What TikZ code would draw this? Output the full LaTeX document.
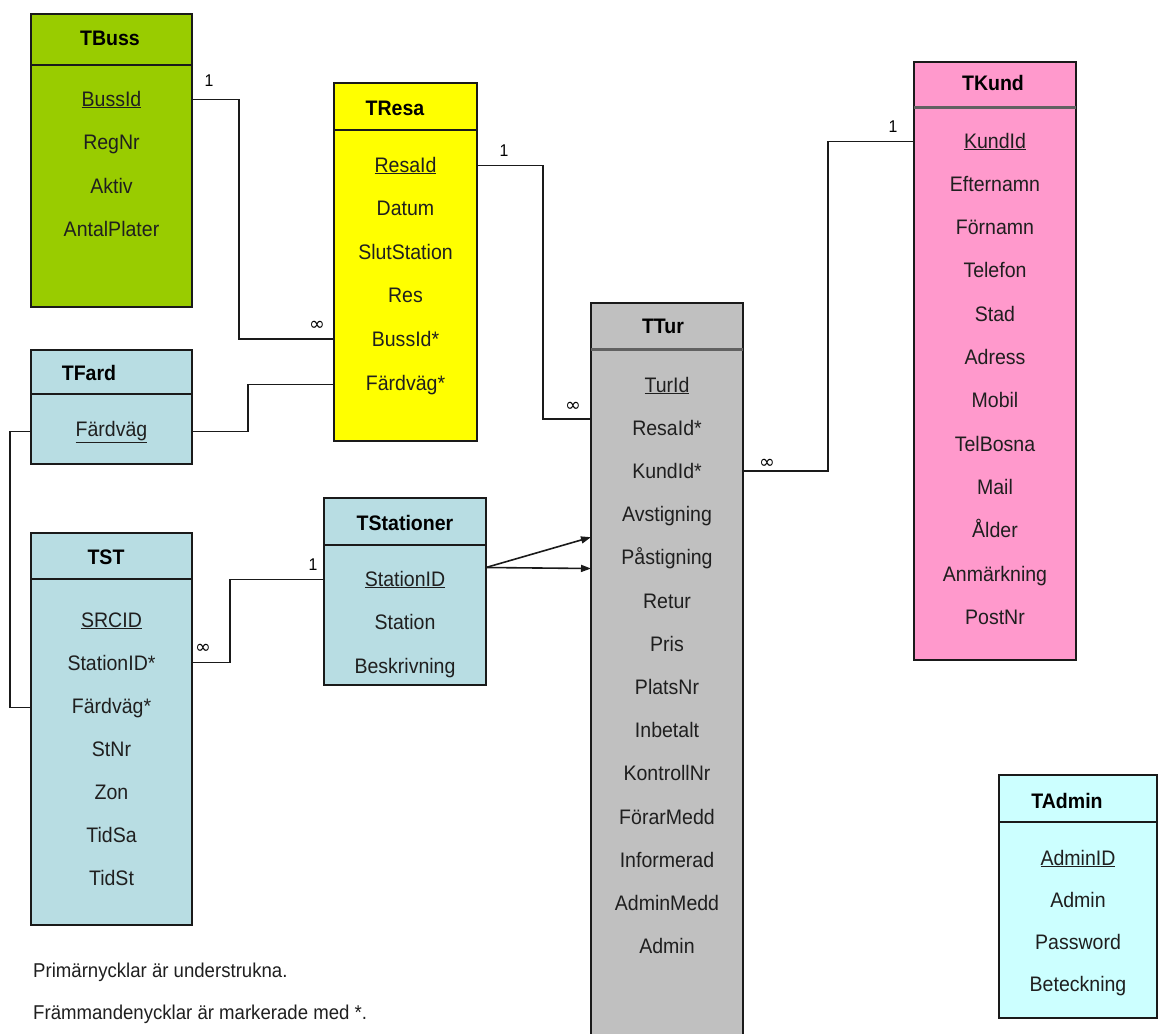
\documentclass[tikz,border=0pt]{standalone}
\usepackage{fontspec}
\setmainfont{Liberation Sans}[FakeStretch=0.93]
\newfontfamily\symfont{DejaVu Sans}
\usetikzlibrary{arrows.meta,calc}
\definecolor{busgreen}{HTML}{99CC00}
\definecolor{resayellow}{HTML}{FFFF00}
\definecolor{stblue}{HTML}{B8DDE3}
\definecolor{turgray}{HTML}{C0C0C0}
\definecolor{kundpink}{HTML}{FF99CC}
\definecolor{admincyan}{HTML}{CCFFFF}
\definecolor{edge}{HTML}{1A1A1A}

\begin{document}
\begin{tikzpicture}[x=1pt,y=-1pt,
  tbox/.style={draw=edge, line width=1.6pt, anchor=north west, inner sep=0pt, outer sep=0pt},
  hdiv/.style={draw=edge, line width=1.5pt},
  hdivthick/.style={draw=black!62, line width=3pt},
  ttl/.style={font=\fontsize{21}{23}\selectfont\bfseries, inner sep=0pt, anchor=base},
  fld/.style={font=\fontsize{21}{23}\selectfont, inner sep=0pt, anchor=base, text=black!88},
  rel/.style={draw=edge, line width=1.6pt},
  card/.style={font=\fontsize{17}{19}\selectfont, inner sep=0pt},
  inf/.style={font=\symfont\fontsize{19}{21}\selectfont, inner sep=0pt},
  arr/.style={rel, -{Triangle[length=10pt,width=7pt]}},
  note/.style={font=\fontsize{20}{22}\selectfont, anchor=base west, inner sep=0pt, text=black!88}
]
\fill[white] (0,0) rectangle (1163,1034);
\useasboundingbox (0,0) rectangle (1163,1034);

% ---------- TBuss ----------
\node[tbox, fill=busgreen, minimum width=161, minimum height=293] (tbuss) at (31,14) {};
\draw[hdiv] (tbuss.west |- 0,65) -- (tbuss.east |- 0,65);
\node[ttl] (tbuss-t) at (110,45) {TBuss};
\foreach \t [count=\i] in {\underline{BussId}, RegNr, Aktiv, AntalPlater}
  \node[fld] (tbuss-\i) at (111.5,{106+43.5*(\i-1)}) {\t};

% ---------- TResa ----------
\node[tbox, fill=resayellow, minimum width=143, minimum height=358] (tresa) at (334,83) {};
\draw[hdiv] (tresa.west |- 0,130) -- (tresa.east |- 0,130);
\node[ttl] (tresa-t) at (395,115) {TResa};
\foreach \t [count=\i] in {\underline{ResaId}, Datum, SlutStation, Res, BussId*, Färdväg*}
  \node[fld] (tresa-\i) at (405.5,{172+43.6*(\i-1)}) {\t};

% ---------- TFard ----------
\node[tbox, fill=stblue, minimum width=161, minimum height=114] (tfard) at (31,350) {};
\draw[hdiv] (tfard.west |- 0,394) -- (tfard.east |- 0,394);
\node[ttl] (tfard-t) at (89,380) {TFard};
\node[fld] (tfard-1) at (111.5,436) {\underline{Färdväg}};

% ---------- TST ----------
\node[tbox, fill=stblue, minimum width=161, minimum height=392] (tst) at (31,533) {};
\draw[hdiv] (tst.west |- 0,579) -- (tst.east |- 0,579);
\node[ttl] (tst-t) at (106,564) {TST};
\foreach \t [count=\i] in {\underline{SRCID}, StationID*, Färdväg*, StNr, Zon, TidSa, TidSt}
  \node[fld] (tst-\i) at (111.5,{627+43*(\i-1)}) {\t};

% ---------- TStationer ----------
\node[tbox, fill=stblue, minimum width=162, minimum height=187] (tstat) at (324,498) {};
\draw[hdiv] (tstat.west |- 0,545) -- (tstat.east |- 0,545);
\node[ttl] (tstat-t) at (405,530) {TStationer};
\foreach \t [count=\i] in {\underline{StationID}, Station, Beskrivning}
  \node[fld] (tstat-\i) at (405,{586+43.5*(\i-1)}) {\t};

% ---------- TTur ----------
\node[tbox, fill=turgray, minimum width=152, minimum height=760] (ttur) at (591,303) {};
\draw[hdivthick] (ttur.west |- 0,349) -- (ttur.east |- 0,349);
\node[ttl] (ttur-t) at (663,333) {TTur};
\foreach \t [count=\i] in {\underline{TurId}, ResaId*, KundId*, Avstigning, Påstigning, Retur, Pris,
    PlatsNr, Inbetalt, KontrollNr, FörarMedd, Informerad, AdminMedd, Admin}
  \node[fld] (ttur-\i) at (667,{392+43.2*(\i-1)}) {\t};

% ---------- TKund ----------
\node[tbox, fill=kundpink, minimum width=162, minimum height=598] (tkund) at (914,62) {};
\draw[hdivthick] (tkund.west |- 0,107) -- (tkund.east |- 0,107);
\node[ttl] (tkund-t) at (993,90) {TKund};
\foreach \t [count=\i] in {\underline{KundId}, Efternamn, Förnamn, Telefon, Stad, Adress, Mobil,
    TelBosna, Mail, Ålder, Anmärkning, PostNr}
  \node[fld] (tkund-\i) at (995,{148+43.3*(\i-1)}) {\t};

% ---------- TAdmin ----------
\node[tbox, fill=admincyan, minimum width=158, minimum height=243] (tadmin) at (999,775) {};
\draw[hdiv] (tadmin.west |- 0,822) -- (tadmin.east |- 0,822);
\node[ttl] (tadmin-t) at (1067,808) {TAdmin};
\foreach \t [count=\i] in {\underline{AdminID}, Admin, Password, Beteckning}
  \node[fld] (tadmin-\i) at (1078,{865+42.3*(\i-1)}) {\t};

% ---------- relationships ----------
\draw[rel] (tbuss-1.center -| tbuss.east) -- ++(47,0) |- (tresa-5.center -| tresa.west);
\draw[rel] (tresa-1.center -| tresa.east) -- ++(66,0) |- ($(ttur-2.center -| ttur.west)+(0,-9)$);
\draw[rel] (ttur-3.center -| ttur.east) -- ++(85,0) |- (tkund-1.center -| tkund.west);
\draw[rel] (tfard-1.center -| tfard.east) -- ++(56,0) |- (tresa-6.center -| tresa.west);
\draw[rel] (tfard-1.center -| tfard.west) -- ++(-21,0) |- (tst-3.center -| tst.west);
\draw[rel] (tst-2.center -| tst.east) -- ++(38,0) |- (tstat-1.center -| tstat.west);
\coordinate (statport) at ($(tstat-1.center -| tstat.east)+(0,-12)$);
\draw[arr] (statport) -- ($(ttur-4.center -| ttur.west)+(0,21)$);
\draw[arr] (statport) -- ($(ttur-5.center -| ttur.west)+(0,10)$);

% ---------- cardinalities ----------
\node[card] (c1a) at (209,81) {1};
\node[inf]  (c1b) at (317,326) {∞};
\node[card] (c2a) at (504,151) {1};
\node[inf]  (c2b) at (573,407) {∞};
\node[inf]  (c3a) at (767,464) {∞};
\node[card] (c3b) at (893,127) {1};
\node[inf]  (c4a) at (203,649) {∞};
\node[card] (c4b) at (313,565) {1};

% ---------- notes ----------
\node[note] (note1) at (33,977) {Primärnycklar är understrukna.};
\node[note] (note2) at (33,1019) {Främmandenycklar är markerade med *.};
\end{tikzpicture}
\end{document}
